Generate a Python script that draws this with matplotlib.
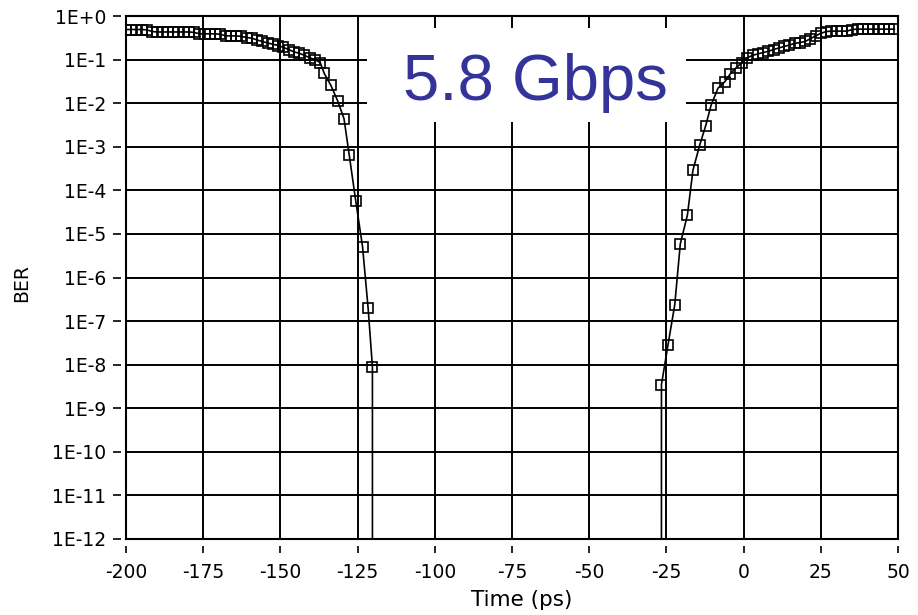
import matplotlib
matplotlib.use("Agg")
import matplotlib.pyplot as plt
from matplotlib.path import Path
from matplotlib.patches import Rectangle
from matplotlib.ticker import FixedLocator, FixedFormatter, NullLocator

# ---------------- data ----------------
left_time = [-200.0, -198.3, -196.6, -194.9, -193.2, -191.5, -189.8, -188.1,
             -186.4, -184.7, -183.0, -181.3, -179.6, -177.9, -176.2, -174.5,
             -172.8, -171.1, -169.4, -167.7, -166.0, -164.3, -162.6, -160.9,
             -159.2, -157.5, -155.8, -154.1, -152.4, -150.7, -149.0, -147.3,
             -145.6, -143.9, -142.2, -140.5, -138.8, -137.1, -135.8, -133.7,
             -131.5, -129.4, -127.7, -125.6, -123.4, -121.6, -120.2, -118.5]
left_ber = [0.49, 0.49, 0.49, 0.49, 0.48, 0.44, 0.43, 0.43,
            0.43, 0.43, 0.43, 0.43, 0.43, 0.42, 0.39, 0.39,
            0.39, 0.39, 0.38, 0.35, 0.35, 0.35, 0.34, 0.32,
            0.31, 0.28, 0.26, 0.24, 0.225, 0.21, 0.19, 0.17,
            0.15, 0.14, 0.125, 0.11, 0.10, 0.085, 0.048, 0.026,
            0.0115, 4.4e-3, 6.4e-4, 5.7e-5, 5.1e-6, 2e-7, 9e-9, 0.0]

right_time = [-28.3, -26.6, -24.5, -22.3, -20.5, -18.2, -16.4, -14.2,
              -12.3, -10.5, -8.3, -6.1, -4.3, -2.4, -0.6, 1.2,
              2.9, 4.6, 6.3, 8.0, 9.7, 11.4, 13.1, 14.8,
              16.5, 18.2, 19.9, 21.6, 23.3, 25.0, 26.7, 28.4,
              30.1, 31.8, 33.5, 35.2, 36.9, 38.6, 40.3, 42.0,
              43.7, 45.4, 47.1, 48.8]
right_ber = [0.0, 3.5e-9, 2.8e-8, 2.35e-7, 5.9e-6, 2.7e-5, 2.9e-4, 1.1e-3,
             3e-3, 9.1e-3, 0.022, 0.031, 0.047, 0.065, 0.085, 0.11,
             0.125, 0.135, 0.145, 0.155, 0.17, 0.185, 0.20, 0.215,
             0.235, 0.245, 0.26, 0.30, 0.35, 0.40, 0.44, 0.45,
             0.45, 0.45, 0.45, 0.49, 0.50, 0.50, 0.50, 0.50,
             0.50, 0.50, 0.50, 0.50]

x_ticks = [-200, -175, -150, -125, -100, -75, -50, -25, 0, 25, 50]
x_tick_labels = ["-200", "-175", "-150", "-125", "-100", "-75", "-50", "-25", "0", "25", "50"]
y_ticks = [1e-12, 1e-11, 1e-10, 1e-9, 1e-8, 1e-7, 1e-6, 1e-5, 1e-4, 1e-3, 1e-2, 1e-1, 1e0]
y_tick_labels = ["1E-12", "1E-11", "1E-10", "1E-9", "1E-8", "1E-7", "1E-6",
                 "1E-5", "1E-4", "1E-3", "1E-2", "1E-1", "1E+0"]
x_label = "Time (ps)"
y_label = "BER"
annotation = "5.8 Gbps"

# ---------------- figure ----------------
plt.rcParams["font.family"] = ["DejaVu Sans"]
plt.rcParams["font.size"] = 13.5

W, H = 918, 615
fig = plt.figure(figsize=(W / 100, H / 100), dpi=100)
ax = fig.add_axes([126 / W, (H - 539) / H, 772 / W, 523 / H])
ax.set_yscale("log", nonpositive="clip")
ax.set_xlim(-200, 50)
ax.set_ylim(1e-12, 1)

for t, b in ((left_time, left_ber), (right_time, right_ber)):
    ax.plot(t, b, color="black", lw=1.2, marker="s", markersize=6.8,
            markerfacecolor="none", markeredgecolor="black",
            markeredgewidth=1.2, zorder=3, clip_on=True)

ax.xaxis.set_major_locator(FixedLocator(x_ticks))
ax.xaxis.set_major_formatter(FixedFormatter(x_tick_labels))
ax.yaxis.set_major_locator(FixedLocator(y_ticks))
ax.yaxis.set_major_formatter(FixedFormatter(y_tick_labels))
ax.yaxis.set_minor_locator(NullLocator())
ax.xaxis.set_minor_locator(NullLocator())

ax.grid(True, which="major", color="black", lw=1.4)
for s in ax.spines.values():
    s.set_color("black")
    s.set_linewidth(1.5)

ax.tick_params(axis="y", length=9.4, pad=5, width=1.2, colors="black")
ax.tick_params(axis="x", length=10, pad=7, width=1.2, colors="black")

# detached tick marks as in the reference
ypath = Path([(-5 / 13, 0), (-1, 0)], [Path.MOVETO, Path.LINETO])
xpath = Path([(0, -0.5), (0, -1)], [Path.MOVETO, Path.LINETO])
for tk in ax.yaxis.get_major_ticks():
    tk.tick1line.set_marker(ypath)
    tk.tick1line.set_markersize(2 * 9.4)
for tk in ax.xaxis.get_major_ticks():
    tk.tick1line.set_marker(xpath)
    tk.tick1line.set_markersize(2 * 10)

ax.set_xlabel(x_label, fontsize=15.5)
ax.xaxis.set_label_coords(0.513, -0.098)
ax.xaxis.label.set_va("top")
ax.set_ylabel(y_label)
ax.yaxis.set_label_coords(-0.135, 0.489)
ax.yaxis.label.set_va("center")

# white box with the data-rate label
ax.add_patch(Rectangle((0.312, 0.797), 0.413, 0.18, transform=ax.transAxes,
                       facecolor="white", edgecolor="none", zorder=1.8))
ax.text(0.53, 0.839, annotation, transform=ax.transAxes, ha="center", va="baseline",
        fontsize=47, color="#333399", family=["Liberation Sans", "DejaVu Sans"], zorder=4)

fig.savefig("out.png", dpi=100)
